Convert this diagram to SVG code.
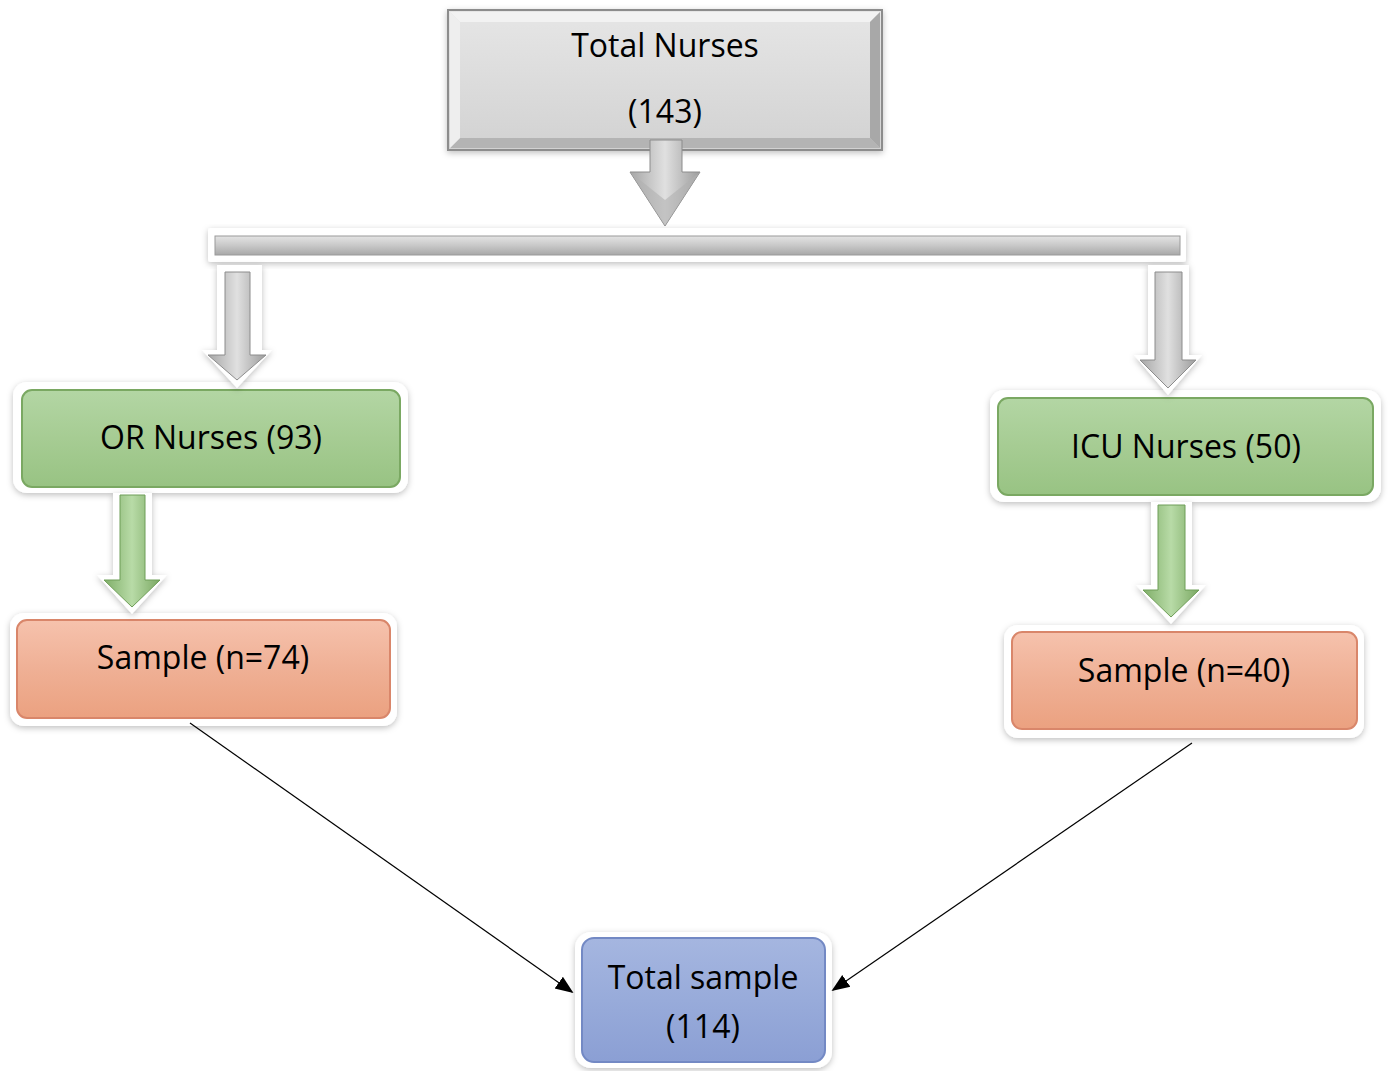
<svg xmlns="http://www.w3.org/2000/svg" width="1388" height="1071" viewBox="0 0 1388 1071">
<defs>
<linearGradient id="gGreen" x1="0" y1="0" x2="0" y2="1"><stop offset="0" stop-color="#b3d6a4"/><stop offset="0.5" stop-color="#a6cc93"/><stop offset="1" stop-color="#98c383"/></linearGradient>
<linearGradient id="gOrange" x1="0" y1="0" x2="0" y2="1"><stop offset="0" stop-color="#f6c2ad"/><stop offset="0.5" stop-color="#efb095"/><stop offset="1" stop-color="#eba180"/></linearGradient>
<linearGradient id="gBlue" x1="0" y1="0" x2="0" y2="1"><stop offset="0" stop-color="#a5b6e0"/><stop offset="0.5" stop-color="#98abda"/><stop offset="1" stop-color="#8b9fd4"/></linearGradient>
<linearGradient id="gGray" x1="0" y1="0" x2="0" y2="1"><stop offset="0" stop-color="#e6e6e6"/><stop offset="1" stop-color="#d2d2d2"/></linearGradient>
<linearGradient id="gBar" x1="0" y1="0" x2="0" y2="1"><stop offset="0" stop-color="#e4e4e4"/><stop offset="0.5" stop-color="#c8c8c8"/><stop offset="1" stop-color="#a8a8a8"/></linearGradient>
<linearGradient id="gShaftGray" x1="0" y1="0" x2="1" y2="0"><stop offset="0" stop-color="#a6a6a6"/><stop offset="0.5" stop-color="#e0e0e0"/><stop offset="1" stop-color="#9c9c9c"/></linearGradient>
<linearGradient id="gShaftGreen" x1="0" y1="0" x2="1" y2="0"><stop offset="0" stop-color="#7fae68"/><stop offset="0.5" stop-color="#b8dba7"/><stop offset="1" stop-color="#7aa862"/></linearGradient>
<filter id="sh" x="-10%" y="-10%" width="120%" height="130%"><feDropShadow dx="0" dy="2" stdDeviation="3" flood-color="#000" flood-opacity="0.25"/></filter>
<marker id="ahb" viewBox="0 0 10 10" refX="9" refY="5" markerWidth="18" markerHeight="18" orient="auto" markerUnits="userSpaceOnUse"><path d="M0,1 L10,5 L0,9 z" fill="#000"/></marker>
</defs>
<style>
text{font-family:"Open Sans","Liberation Sans",sans-serif;font-size:32px;fill:#000;text-anchor:middle}
.frame{fill:#fff;filter:url(#sh)}
.green{fill:url(#gGreen);stroke:#7aa862;stroke-width:2}
.orange{fill:url(#gOrange);stroke:#d9866a;stroke-width:2}
.blue{fill:url(#gBlue);stroke:#7389c4;stroke-width:2}
.conn{stroke:#000;stroke-width:1.2;fill:none}
</style>
<rect width="1388" height="1071" fill="#fff"/>

<g id="total-nurses">
<rect x="448" y="10" width="434" height="140" fill="url(#gGray)" stroke="#8c8c8c" stroke-width="2" filter="url(#sh)"/>
<path d="M450,12 L880,12 L870,22 L460,22 Z" fill="#f2f2f2"/>
<path d="M450,148 L880,148 L870,138 L460,138 Z" fill="#b4b4b4"/>
<path d="M450,12 L460,22 L460,138 L450,148 Z" fill="#eeeeee"/>
<path d="M880,12 L870,22 L870,138 L880,148 Z" fill="#a8a8a8"/>
<text x="665" y="57">Total Nurses</text>
<text x="665" y="123">(143)</text>
</g>

<g id="or-nurses">
<rect class="frame" x="13" y="382" width="395" height="111" rx="14"/>
<rect class="green" x="22" y="390" width="378" height="97" rx="10"/>
<text x="211" y="449">OR Nurses (93)</text>
</g>

<g id="icu-nurses">
<rect class="frame" x="990" y="390" width="391" height="112" rx="14"/>
<rect class="green" x="998" y="398" width="375" height="97" rx="10"/>
<text x="1186" y="458">ICU Nurses (50)</text>
</g>

<g id="sample-or">
<rect class="frame" x="10" y="613" width="387" height="113" rx="14"/>
<rect class="orange" x="17" y="620" width="373" height="98" rx="10"/>
<text x="203" y="669">Sample (n=74)</text>
</g>

<g id="sample-icu">
<rect class="frame" x="1004" y="625" width="360" height="113" rx="14"/>
<rect class="orange" x="1012" y="632" width="345" height="97" rx="10"/>
<text x="1184" y="682">Sample (n=40)</text>
</g>

<g id="total-sample">
<rect class="frame" x="575" y="932" width="257" height="136" rx="16"/>
<rect class="blue" x="582" y="938" width="243" height="124" rx="12"/>
<text x="703" y="989">Total sample</text>
<text x="703" y="1038">(114)</text>
</g>

<g id="connectors">
<path d="M650,140 L682,140 L682,172 L700,172 L665,226 L630,172 L650,172 Z" fill="url(#gShaftGray)" stroke="#8c8c8c" stroke-width="1"/>
<path d="M630,172 L665,200 L700,172 L665,226 Z" fill="#b0b0b0" opacity="0.6"/>
<rect class="frame" x="208" y="228" width="978" height="34" rx="3"/>
<rect x="215" y="236" width="965" height="19" fill="url(#gBar)" stroke="#9a9a9a" stroke-width="1"/>
<path d="M217,265 L262,265 L262,350 L272,350 L237,388 L202,350 L217,350 Z" fill="#fff" filter="url(#sh)"/>
<path d="M225,272 L250,272 L250,355 L266,355 L237,380 L208,355 L225,355 Z" fill="url(#gShaftGray)" stroke="#8c8c8c" stroke-width="1"/>
<path d="M1148,265 L1189,265 L1189,355 L1202,355 L1168,395 L1134,355 L1148,355 Z" fill="#fff" filter="url(#sh)"/>
<path d="M1155,272 L1182,272 L1182,360 L1196,360 L1168,388 L1140,360 L1155,360 Z" fill="url(#gShaftGray)" stroke="#8c8c8c" stroke-width="1"/>
<path d="M113,493 L152,493 L152,575 L167,575 L132,614 L97,575 L113,575 Z" fill="#fff" filter="url(#sh)"/>
<path d="M120,495 L145,495 L145,580 L160,580 L132,607 L104,580 L120,580 Z" fill="url(#gShaftGreen)" stroke="#6f9e58" stroke-width="1"/>
<path d="M1151,502 L1192,502 L1192,585 L1206,585 L1171,624 L1136,585 L1151,585 Z" fill="#fff" filter="url(#sh)"/>
<path d="M1158,505 L1185,505 L1185,590 L1199,590 L1171,617 L1143,590 L1158,590 Z" fill="url(#gShaftGreen)" stroke="#6f9e58" stroke-width="1"/>
<line class="conn" x1="190" y1="723" x2="572" y2="992" marker-end="url(#ahb)"/>
<line class="conn" x1="1192" y1="743" x2="833" y2="990" marker-end="url(#ahb)"/>
</g>
</svg>
